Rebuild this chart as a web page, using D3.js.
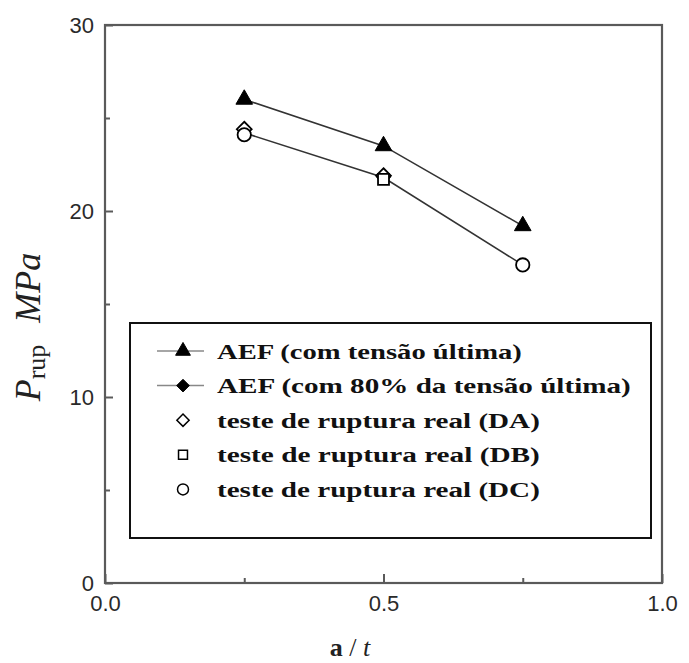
<!DOCTYPE html>
<html>
<head>
<meta charset="utf-8">
<script src="https://cdn.jsdelivr.net/npm/d3@7"></script>
<style>
  html, body { margin: 0; padding: 0; background: #fff; }
  svg { display: block; }
</style>
</head>
<body>
<svg id="chart" width="689" height="663"></svg>
<script>
// ---- data ----
const aOverT = [0.25, 0.5, 0.75];
const aefUltimate = [26.0, 23.5, 19.2];
const aef80 = [24.2, 21.8, 17.1];
const testDA = [24.4, 21.9, null];
const testDB = [null, 21.7, null];
const testDC = [24.1, null, 17.1];
const yMajorTicks = [0, 10, 20, 30];
const yMinorTicks = [5, 15, 25];
const xMajorTicks = [0, 0.5, 1.0];
const xMinorTicks = [0.25, 0.75];
const legendLabels = [
  "AEF (com tensão última)",
  "AEF (com 80% da tensão última)",
  "teste de ruptura real (DA)",
  "teste de ruptura real (DB)",
  "teste de ruptura real (DC)"
];
const legendWidths = [305, 414, 323, 323, 323];

// ---- layout ----
const svg = d3.select("#chart");
const x = d3.scaleLinear().domain([0, 1]).range([105, 662]);
const y = d3.scaleLinear().domain([0, 30]).range([583, 25]);
const axisColor = "#5a5a5a";

// rotated-square diamond symbol
const symbolRhomb = {
  draw(ctx, size) {
    const r = Math.sqrt(size / 2);
    ctx.moveTo(0, -r); ctx.lineTo(r, 0); ctx.lineTo(0, r); ctx.lineTo(-r, 0); ctx.closePath();
  }
};

// frame
svg.append("rect")
  .attr("x", x(0)).attr("y", y(30))
  .attr("width", x(1) - x(0)).attr("height", y(0) - y(30))
  .attr("fill", "none").attr("stroke", axisColor).attr("stroke-width", 2.2);

// axes
function styleAxis(g) {
  g.select(".domain").remove();
  g.selectAll(".tick line").attr("stroke", axisColor).attr("stroke-width", 2);
  g.selectAll(".tick text")
    .attr("fill", "#2a2a2a")
    .style("font-family", "'Liberation Sans', Arial, sans-serif")
    .style("font-size", "22px");
}
svg.append("g").attr("transform", `translate(${x(0)},0)`)
  .call(d3.axisLeft(y).tickValues(yMajorTicks).tickSizeInner(-8).tickSizeOuter(0)
        .tickPadding(11).tickFormat(d3.format("d")))
  .call(styleAxis);
svg.append("g").attr("transform", `translate(${x(0)},0)`)
  .call(d3.axisLeft(y).tickValues(yMinorTicks).tickSizeInner(-5).tickSizeOuter(0).tickFormat(""))
  .call(styleAxis);
svg.append("g").attr("transform", `translate(0,${y(0)})`)
  .call(d3.axisBottom(x).tickValues(xMajorTicks).tickSizeInner(-9).tickSizeOuter(0)
        .tickPadding(12).tickFormat(d3.format(".1f")))
  .call(styleAxis);
svg.append("g").attr("transform", `translate(0,${y(0)})`)
  .call(d3.axisBottom(x).tickValues(xMinorTicks).tickSizeInner(-5).tickSizeOuter(0).tickFormat(""))
  .call(styleAxis);

// ---- series ----
const line = d3.line()
  .defined(d => d[1] != null)
  .x(d => x(d[0])).y(d => y(d[1]));
const pts = vals => aOverT.map((v, i) => [v, vals[i]]);

function drawLine(vals) {
  svg.append("path").datum(pts(vals))
    .attr("d", line).attr("fill", "none")
    .attr("stroke", "#333").attr("stroke-width", 1.6);
}
function drawMarkers(vals, type, size, filled) {
  svg.append("g").selectAll("path")
    .data(pts(vals).filter(d => d[1] != null))
    .join("path")
    .attr("transform", d => `translate(${x(d[0])},${y(d[1])})`)
    .attr("d", d3.symbol().type(type).size(size))
    .attr("fill", filled ? "#000" : "#fff")
    .attr("stroke", "#000").attr("stroke-width", filled ? 1 : 1.8);
}

drawLine(aef80);
drawMarkers(aef80, symbolRhomb, 90, true);
drawLine(aefUltimate);
drawMarkers(aefUltimate, d3.symbolTriangle, 120, true);
drawMarkers(testDA, symbolRhomb, 110, false);
drawMarkers(testDC, d3.symbolCircle, 140, false);
drawMarkers(testDB, d3.symbolSquare, 120, false);

// ---- legend ----
const lg = svg.append("g");
lg.append("rect").attr("x", 130).attr("y", 323).attr("width", 521).attr("height", 215)
  .attr("fill", "#fff").attr("stroke", "#111").attr("stroke-width", 2);
const legendSymbols = [
  { type: d3.symbolTriangle, size: 95, filled: true, line: true },
  { type: symbolRhomb, size: 80, filled: true, line: true },
  { type: symbolRhomb, size: 75, filled: false, line: false },
  { type: d3.symbolSquare, size: 80, filled: false, line: false },
  { type: d3.symbolCircle, size: 95, filled: false, line: false }
];
const rowY = i => 351 + i * 34.6;
legendLabels.forEach((lab, i) => {
  const s = legendSymbols[i];
  const cy = rowY(i);
  if (s.line) {
    lg.append("line").attr("x1", 157).attr("x2", 204).attr("y1", cy).attr("y2", cy)
      .attr("stroke", "#888").attr("stroke-width", 1.5);
  }
  lg.append("path").attr("transform", `translate(183,${cy})`)
    .attr("d", d3.symbol().type(s.type).size(s.size))
    .attr("fill", s.filled ? "#000" : "#fff")
    .attr("stroke", "#000").attr("stroke-width", s.filled ? 1 : 1.5);
  const t = lg.append("text").attr("x", 0).attr("y", 0)
    .style("font-family", "'Liberation Serif', 'Times New Roman', serif")
    .style("font-weight", "bold").style("font-size", "22px")
    .attr("fill", "#111")
    .text(lab);
  const natural = t.node().getComputedTextLength();
  const sx = legendWidths[i] / natural;
  t.attr("transform", `translate(217,${cy + 7.5}) scale(${sx},1)`);
});

// ---- axis titles ----
const yt = svg.append("text")
  .attr("transform", "translate(40,327) rotate(-90)")
  .attr("text-anchor", "middle")
  .style("font-family", "'Liberation Serif', 'Times New Roman', serif")
  .attr("fill", "#222");
yt.append("tspan").style("font-style", "italic").style("font-size", "36px").text("P");
yt.append("tspan").style("font-size", "26px").attr("dy", 5).text("rup");
yt.append("tspan").style("font-style", "italic").style("font-size", "36px")
  .attr("dy", -5).attr("dx", 22).text("MPa");

const xt = svg.append("text")
  .attr("x", 350).attr("y", 656)
  .attr("text-anchor", "middle")
  .style("font-family", "'Liberation Serif', 'Times New Roman', serif")
  .style("font-size", "26px").attr("fill", "#222");
xt.append("tspan").style("font-weight", "bold").text("a");
xt.append("tspan").text(" / ");
xt.append("tspan").style("font-style", "italic").text("t");
</script>
</body>
</html>
